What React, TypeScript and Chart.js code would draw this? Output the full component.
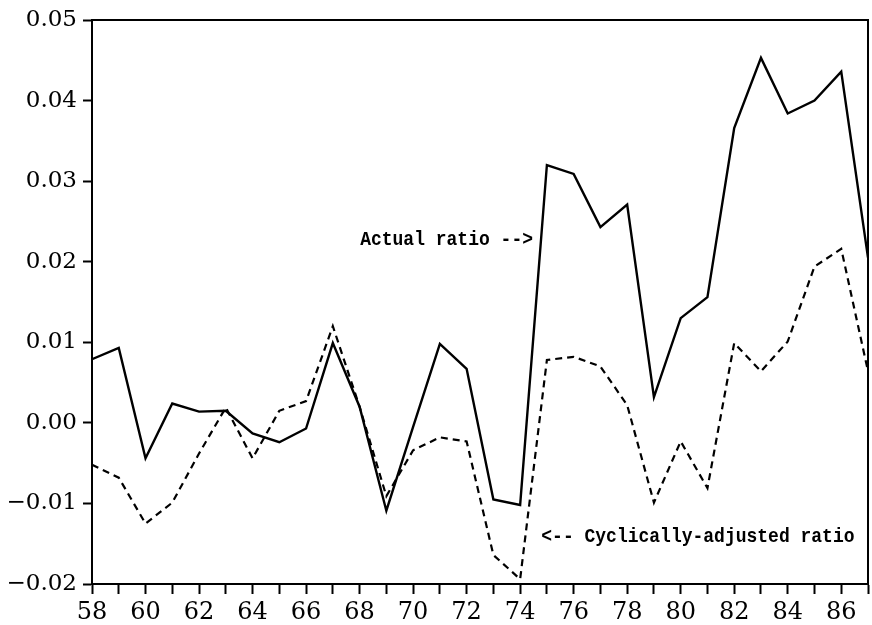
import React, { useEffect, useRef } from "react";
import { Chart, registerables } from "chart.js";

Chart.register(...registerables);

const years = [58, 59, 60, 61, 62, 63, 64, 65, 66, 67, 68, 69, 70, 71, 72, 73, 74, 75, 76, 77, 78, 79, 80, 81, 82, 83, 84, 85, 86, 87];

const actualRatio = [
  0.0079, 0.0093, -0.0044, 0.0024, 0.0014, 0.0015, -0.0013, -0.0024, -0.0007, 0.0099,
  0.002, -0.0109, -0.0005, 0.0098, 0.0067, -0.0095, -0.0102, 0.032, 0.0309, 0.0243,
  0.0271, 0.0032, 0.013, 0.0156, 0.0366, 0.0453, 0.0384, 0.04, 0.0436, 0.0205,
];

const cyclicallyAdjusted = [
  -0.0052, -0.0068, -0.0125, -0.0099, -0.0038, 0.0019, -0.0044, 0.0015, 0.0027, 0.012,
  0.002, -0.0091, -0.0034, -0.0018, -0.0023, -0.0164, -0.0194, 0.0078, 0.0082, 0.007,
  0.0022, -0.0099, -0.0023, -0.0081, 0.0099, 0.0064, 0.0101, 0.0194, 0.0216, 0.0064,
];

const yTicks = [0.05, 0.04, 0.03, 0.02, 0.01, 0.0, -0.01, -0.02];
const yTickLabels = ["0.05", "0.04", "0.03", "0.02", "0.01", "0.00", "\u22120.01", "\u22120.02"];
const xLabelYears = [58, 60, 62, 64, 66, 68, 70, 72, 74, 76, 78, 80, 82, 84, 86];

const annotations = [
  { text: "Actual ratio -->", x: 74.48, y: 0.0227, align: "right" as CanvasTextAlign },
  { text: "<-- Cyclically-adjusted ratio", x: 74.79, y: -0.0141, align: "left" as CanvasTextAlign },
];

export default function App() {
  const ref = useRef<HTMLCanvasElement | null>(null);

  useEffect(() => {
    if (!ref.current) return;
    const frame = {
      id: "frame",
      afterDatasetsDraw(chart: any) {
        const { ctx, chartArea } = chart;
        ctx.save();
        ctx.strokeStyle = "#000";
        ctx.lineWidth = 2;
        ctx.strokeRect(chartArea.left, chartArea.top, chartArea.right - chartArea.left, chartArea.bottom - chartArea.top);
        ctx.fillStyle = "#000";
        ctx.font = "bold 18px 'Liberation Mono', monospace";
        ctx.textBaseline = "middle";
        const xs = chart.scales.x;
        const ys = chart.scales.y;
        for (const a of annotations) {
          ctx.save();
          ctx.textAlign = a.align;
          ctx.translate(xs.getPixelForValue(a.x), ys.getPixelForValue(a.y));
          ctx.scale(1, 1.15);
          ctx.fillText(a.text, 0, 0);
          ctx.restore();
        }
        ctx.restore();
      },
    };

    const chart = new Chart(ref.current, {
      type: "line",
      data: {
        datasets: [
          {
            label: "Actual ratio",
            data: years.map((y, i) => ({ x: y, y: actualRatio[i] })),
            borderColor: "#000",
            borderWidth: 2.4,
            pointRadius: 0,
            tension: 0,
            fill: false,
          },
          {
            label: "Cyclically-adjusted ratio",
            data: years.map((y, i) => ({ x: y, y: cyclicallyAdjusted[i] })),
            borderColor: "#000",
            borderWidth: 2.2,
            borderDash: [7, 5],
            pointRadius: 0,
            tension: 0,
            fill: false,
          },
        ],
      },
      options: {
        animation: false,
        responsive: false,
        maintainAspectRatio: false,
        layout: { padding: { top: 20, right: 4, left: 0, bottom: 0 } },
        plugins: { legend: { display: false }, tooltip: { enabled: false } },
        scales: {
          x: {
            type: "linear",
            min: 58,
            max: 87,
            afterFit(scale: any) {
              scale.height = 41;
            },
            afterBuildTicks(scale: any) {
              scale.ticks = years.map((v) => ({ value: v }));
            },
            ticks: {
              autoSkip: false,
              maxRotation: 0,
              padding: 4,
              color: "#000",
              font: { family: "'DejaVu Serif', serif", size: 24 },
              callback: (v: any) => (xLabelYears.includes(Number(v)) ? String(v) : ""),
            },
            grid: {
              drawOnChartArea: false,
              drawTicks: true,
              tickLength: 10,
              tickWidth: 2,
              tickColor: "#000",
            },
            border: { display: true, color: "#000", width: 2 },
          },
          y: {
            type: "linear",
            min: -0.02,
            max: 0.05,
            afterFit(scale: any) {
              scale.width = 92;
            },
            afterBuildTicks(scale: any) {
              scale.ticks = yTicks.map((v) => ({ value: v }));
            },
            ticks: {
              autoSkip: false,
              padding: 6,
              color: "#000",
              font: { family: "'DejaVu Serif', serif", size: 23 },
              callback: (v: any) => {
                const idx = yTicks.findIndex((t) => Math.abs(t - Number(v)) < 1e-9);
                return idx >= 0 ? yTickLabels[idx] : "";
              },
            },
            grid: {
              drawOnChartArea: false,
              drawTicks: true,
              tickLength: 9,
              tickWidth: 2,
              tickColor: "#000",
            },
            border: { display: true, color: "#000", width: 2 },
          },
        },
      },
      plugins: [frame],
    });
    return () => chart.destroy();
  }, []);

  return (
    <div style={{ position: "absolute", left: 0, top: 0, width: 872, height: 625, background: "#fff" }}>
      <canvas ref={ref} width={872} height={625} style={{ display: "block" }} />
    </div>
  );
}
